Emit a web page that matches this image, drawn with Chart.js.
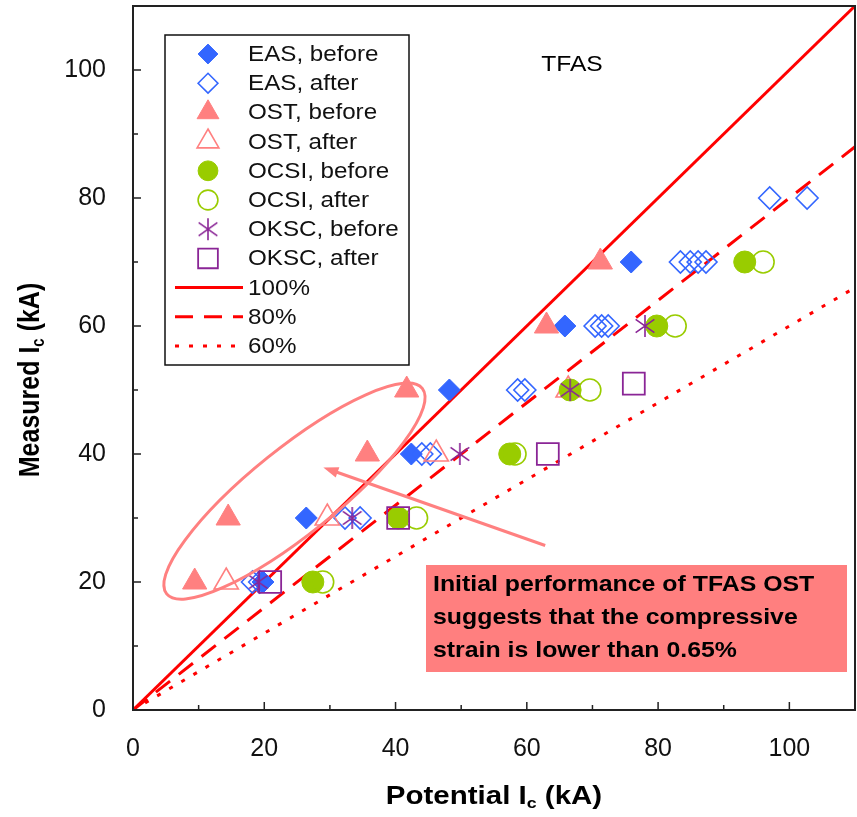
<!DOCTYPE html>
<html>
<head>
<meta charset="utf-8">
<script src="https://cdn.jsdelivr.net/npm/chart.js@4.4.1/dist/chart.umd.min.js"></script>
<style>
    html, body { margin: 0; padding: 0; background: #fff; }
    #wrap { width: 857px; height: 817px; }
</style>
</head>
<body>
<div id="wrap"><canvas id="icChart" width="857" height="817"></canvas></div>
<script>
// Potential Ic (x) vs measured Ic (y), kA
const easBeforeX = [19.8, 26.4, 42.4, 48.2, 65.8, 75.9];
const easBeforeY = [20, 30, 40, 50, 60, 70];
const easAfterX = [18.2, 19.3, 32.3, 34.6, 44.0, 45.3, 58.6, 59.7, 70.4, 71.4, 72.4, 83.4, 84.9, 86.1, 87.3, 97.0, 102.7];
const easAfterY = [20, 20, 30, 30, 40, 40, 50, 50, 60, 60, 60, 70, 70, 70, 70, 80, 80];
const ostBeforeX = [9.4, 14.5, 35.7, 41.7, 63.0, 71.2];
const ostBeforeY = [20, 30, 40, 50, 60, 70];
const ostAfterX = [14.2, 29.6, 46.2, 66.3];
const ostAfterY = [20, 30, 40, 50];
const ocsiBeforeX = [27.4, 40.4, 57.4, 66.6, 79.8, 93.2];
const ocsiBeforeY = [20, 30, 40, 50, 60, 70];
const ocsiAfterX = [28.9, 43.2, 58.2, 69.6, 82.6, 96.0];
const ocsiAfterY = [20, 30, 40, 50, 60, 70];
const okscBeforeX = [19.1, 33.4, 49.8, 66.6, 78.0];
const okscBeforeY = [20, 30, 40, 50, 60];
const okscAfterX = [20.9, 40.4, 63.2, 76.3];
const okscAfterY = [20, 30, 40, 51];

// reference lines (measured = 100%, 80%, 60% of potential)
const refX = [0, 110];
const line100Y = [0, 110];
const line80Y = [0, 88];
const line60Y = [0, 66];

const axisTicks = [0, 20, 40, 60, 80, 100];

const BLUE = '#3366FF';
const SALMON = '#FF8080';
const GREEN = '#99CC00';
const PURPLE = '#8A2596';
const RED = '#FF0000';
const CLEAR = 'rgba(0,0,0,0)';
const FONT = '"Liberation Sans", Arial, sans-serif';

function toPoints(xs, ys) {
    return xs.map((x, i) => ({ x: x, y: ys[i] }));
}

// asterisk marker (vertical bar + x)
function makeAsterisk(size, color) {
    const c = document.createElement('canvas');
    c.width = size;
    c.height = size;
    const g = c.getContext('2d');
    g.strokeStyle = color;
    g.lineWidth = 1.6;
    const m = size / 2;
    const r = size / 2 - 1;
    g.beginPath();
    g.moveTo(m, m - r); g.lineTo(m, m + r);
    g.moveTo(m - r * 0.85, m - r * 0.6); g.lineTo(m + r * 0.85, m + r * 0.6);
    g.moveTo(m - r * 0.85, m + r * 0.6); g.lineTo(m + r * 0.85, m - r * 0.6);
    g.stroke();
    return c;
}
const asterisk = makeAsterisk(24, PURPLE);

function markerSet(label, xs, ys, style, radius, fill, stroke, bw, order) {
    return {
        label: label,
        data: toPoints(xs, ys),
        pointStyle: style,
        pointRadius: radius,
        pointBackgroundColor: fill,
        pointBorderColor: stroke,
        pointBorderWidth: bw,
        backgroundColor: fill,
        borderColor: stroke,
        showLine: false,
        order: order,
    };
}

function refLine(label, ys, dash) {
    return {
        type: 'line',
        label: label,
        data: toPoints(refX, ys),
        borderColor: RED,
        borderWidth: 3,
        borderDash: dash,
        pointRadius: 0,
        showLine: true,
        fill: false,
        order: 100,
        isRefLine: true,
    };
}

const datasets = [
    markerSet('EAS, before', easBeforeX, easBeforeY, 'rectRot', 11, BLUE, BLUE, 1, 20),
    markerSet('EAS, after', easAfterX, easAfterY, 'rectRot', 11, CLEAR, BLUE, 1.6, 19),
    markerSet('OST, before', ostBeforeX, ostBeforeY, 'triangle', 14, SALMON, SALMON, 1, 18),
    markerSet('OST, after', ostAfterX, ostAfterY, 'triangle', 14, CLEAR, SALMON, 1.6, 17),
    markerSet('OCSI, before', ocsiBeforeX, ocsiBeforeY, 'circle', 11, GREEN, GREEN, 1, 16),
    markerSet('OCSI, after', ocsiAfterX, ocsiAfterY, 'circle', 11, CLEAR, GREEN, 1.6, 15),
    markerSet('OKSC, before', okscBeforeX, okscBeforeY, asterisk, 12, PURPLE, PURPLE, 1, 14),
    markerSet('OKSC, after', okscAfterX, okscAfterY, 'rect', 15.5, CLEAR, PURPLE, 1.8, 13),
    refLine('100%', line100Y, []),
    refLine('80%', line80Y, [18, 11]),
    refLine('60%', line60Y, [4, 10]),
];

// draws "Main" + subscript + "rest" at current origin, centred
function drawSubTitle(ctx, main, sub, rest, size) {
    const big = 'bold ' + size + 'px ' + FONT;
    const small = 'bold ' + Math.round(size * 0.6) + 'px ' + FONT;
    ctx.font = big;
    const w1 = ctx.measureText(main).width;
    const w3 = ctx.measureText(rest).width;
    ctx.font = small;
    const w2 = ctx.measureText(sub).width;
    let x = -(w1 + w2 + w3) / 2;
    ctx.textAlign = 'left';
    ctx.textBaseline = 'alphabetic';
    ctx.font = big;
    ctx.fillText(main, x, 0);
    x += w1;
    ctx.font = small;
    ctx.fillText(sub, x, 4);
    x += w2;
    ctx.font = big;
    ctx.fillText(rest, x, 0);
}

function drawMarker(ctx, ds, x, y) {
    ctx.save();
    ctx.fillStyle = ds.pointBackgroundColor;
    ctx.strokeStyle = ds.pointBorderColor;
    ctx.lineWidth = ds.pointBorderWidth;
    Chart.helpers.drawPoint(ctx, {
        pointStyle: ds.pointStyle,
        radius: ds.pointRadius,
        rotation: 0,
        borderWidth: ds.pointBorderWidth,
    }, x, y);
    ctx.restore();
}

const decorPlugin = {
    id: 'decor',
    afterDatasetsDraw(chart) {
        const ctx = chart.ctx;
        const area = chart.chartArea;
        const xs = chart.scales.x;
        const ys = chart.scales.y;

        ctx.save();
        // inside tick marks
        ctx.strokeStyle = '#222';
        ctx.lineWidth = 1.5;
        ctx.beginPath();
        for (let v = 10; v < 110; v += 10) {
            const len = v % 20 === 0 ? 8 : 5;
            const px = xs.getPixelForValue(v);
            ctx.moveTo(px, area.bottom);
            ctx.lineTo(px, area.bottom - len);
            const py = ys.getPixelForValue(v);
            ctx.moveTo(area.left, py);
            ctx.lineTo(area.left + len, py);
        }
        ctx.stroke();

        // plot frame
        ctx.lineWidth = 2;
        ctx.strokeRect(area.left, area.top, area.right - area.left, area.bottom - area.top);

        // ellipse around the early OST points
        const ex = xs.getPixelForValue(24.6);
        const ey = ys.getPixelForValue(34.2);
        ctx.strokeStyle = SALMON;
        ctx.lineWidth = 3;
        ctx.beginPath();
        ctx.ellipse(ex, ey, 164, 43, -38.8 * Math.PI / 180, 0, Math.PI * 2);
        ctx.stroke();

        // arrow pointing at the ellipse
        const ax0 = xs.getPixelForValue(62.8), ay0 = ys.getPixelForValue(25.7);
        const ax1 = xs.getPixelForValue(29.0), ay1 = ys.getPixelForValue(37.9);
        const ang = Math.atan2(ay1 - ay0, ax1 - ax0);
        ctx.beginPath();
        ctx.moveTo(ax0, ay0);
        ctx.lineTo(ax1 - Math.cos(ang) * 10, ay1 - Math.sin(ang) * 10);
        ctx.stroke();
        ctx.fillStyle = SALMON;
        ctx.beginPath();
        ctx.moveTo(ax1, ay1);
        ctx.lineTo(ax1 - Math.cos(ang - 0.35) * 16, ay1 - Math.sin(ang - 0.35) * 16);
        ctx.lineTo(ax1 - Math.cos(ang + 0.35) * 16, ay1 - Math.sin(ang + 0.35) * 16);
        ctx.closePath();
        ctx.fill();

        // comment box
        ctx.fillStyle = '#FF7F7F';
        ctx.fillRect(426, 565, 421, 107);
        ctx.fillStyle = '#000';
        ctx.font = 'bold 22px ' + FONT;
        ctx.textAlign = 'left';
        ctx.textBaseline = 'alphabetic';
        const boxLines = ['Initial performance of TFAS OST', 'suggests that the compressive', 'strain is lower than 0.65%'];
        boxLines.forEach((t, i) => {
            ctx.save();
            ctx.translate(433, 591 + i * 33);
            ctx.scale(1.13, 1);
            ctx.fillText(t, 0, 0);
            ctx.restore();
        });

        // TFAS label
        ctx.font = '22px ' + FONT;
        ctx.textAlign = 'center';
        ctx.save();
        ctx.translate(572, 71);
        ctx.scale(1.12, 1);
        ctx.fillText('TFAS', 0, 0);
        ctx.restore();

        // legend box
        ctx.fillStyle = '#fff';
        ctx.fillRect(165, 35, 244, 330);
        ctx.strokeStyle = '#111';
        ctx.lineWidth = 1.5;
        ctx.strokeRect(165, 35, 244, 330);
        chart.data.datasets.forEach((ds, i) => {
            const cy = 54 + i * 29.2;
            if (ds.isRefLine) {
                ctx.save();
                ctx.strokeStyle = ds.borderColor;
                ctx.lineWidth = ds.borderWidth;
                ctx.setLineDash(ds.borderDash);
                ctx.beginPath();
                ctx.moveTo(175, cy);
                ctx.lineTo(243, cy);
                ctx.stroke();
                ctx.restore();
            } else {
                drawMarker(ctx, Object.assign({}, ds, { pointRadius: ds.pointRadius * 0.9 }), 208, cy);
            }
            ctx.save();
            ctx.fillStyle = '#111';
            ctx.font = '22px ' + FONT;
            ctx.textAlign = 'left';
            ctx.textBaseline = 'middle';
            ctx.translate(248, cy + 1);
            ctx.scale(1.1, 1);
            ctx.fillText(ds.label, 0, 0);
            ctx.restore();
        });

        // axis titles
        ctx.fillStyle = '#000';
        ctx.save();
        ctx.translate((area.left + area.right) / 2, 804);
        ctx.scale(1.18, 1);
        drawSubTitle(ctx, 'Potential I', 'c', ' (kA)', 25);
        ctx.restore();

        ctx.save();
        ctx.translate(39, 380);
        ctx.rotate(-Math.PI / 2);
        ctx.scale(1, 1.18);
        drawSubTitle(ctx, 'Measured I', 'c', ' (kA)', 25);
        ctx.restore();

        ctx.restore();
    },
};

// keep the plot box where the reference has it
function fixPadding(scale) {
    scale.paddingTop = 0;
    scale.paddingBottom = 0;
    scale.paddingLeft = 0;
    scale.paddingRight = 0;
}

const icCtx = document.getElementById('icChart').getContext('2d');
const icChart = new Chart(icCtx, {
    type: 'scatter',
    data: { datasets: datasets },
    options: {
        responsive: false,
        animation: false,
        layout: { autoPadding: false, padding: { top: 6, right: 2, left: 0, bottom: 0 } },
        plugins: {
            legend: { display: false },
            tooltip: { enabled: false },
        },
        scales: {
            x: {
                type: 'linear',
                min: 0,
                max: 110,
                afterBuildTicks: (scale) => { scale.ticks = axisTicks.map((v) => ({ value: v })); },
                afterFit: (scale) => { scale.height = 107; fixPadding(scale); },
                grid: { display: false, drawTicks: false },
                border: { display: false },
                ticks: {
                    padding: 24,
                    color: '#111',
                    font: { family: FONT, size: 25 },
                },
            },
            y: {
                type: 'linear',
                min: 0,
                max: 110,
                afterBuildTicks: (scale) => { scale.ticks = axisTicks.map((v) => ({ value: v })); },
                afterFit: (scale) => { scale.width = 133; fixPadding(scale); },
                grid: { display: false, drawTicks: false },
                border: { display: false },
                ticks: {
                    padding: 27,
                    color: '#111',
                    font: { family: FONT, size: 25 },
                },
            },
        },
    },
    plugins: [decorPlugin],
});
</script>
</body>
</html>
